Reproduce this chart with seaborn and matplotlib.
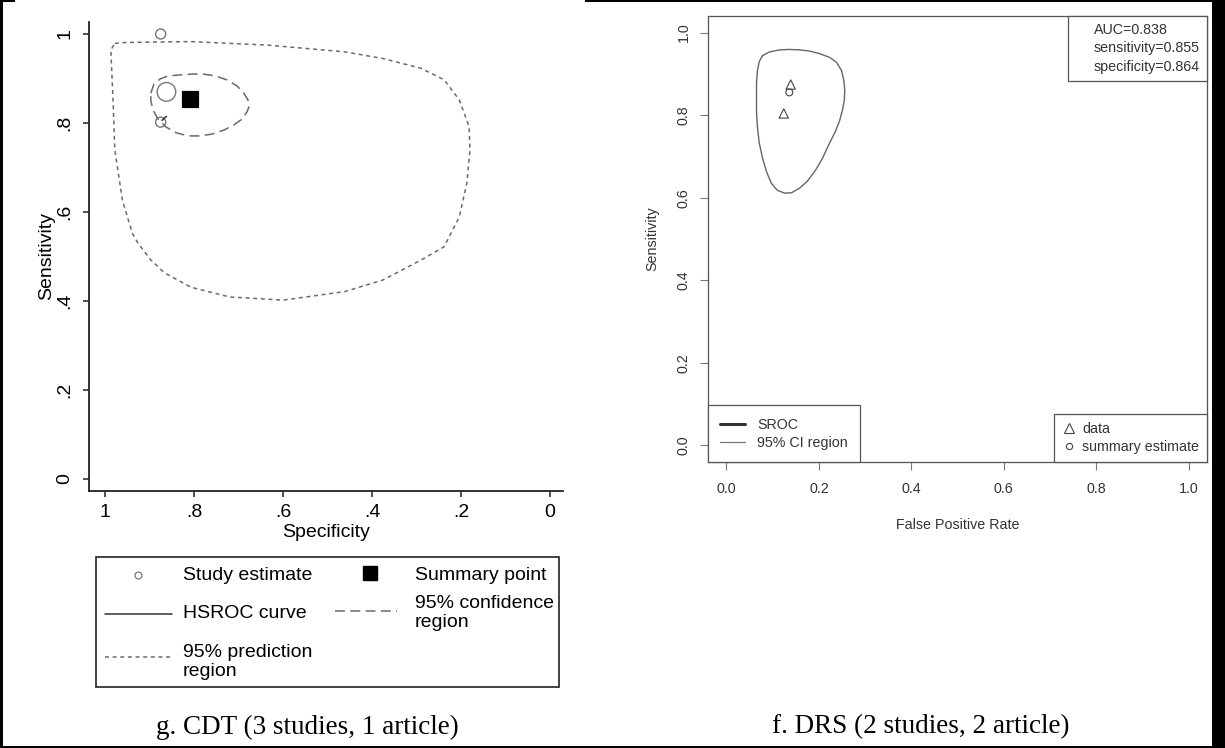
import numpy as np
import matplotlib
matplotlib.use("Agg")
import matplotlib.pyplot as plt
import seaborn as sns
from matplotlib.lines import Line2D
from matplotlib.patches import Rectangle

# ---- g. CDT: HSROC plot (specificity axis reversed) ----
cdt_study_spec = [0.875, 0.862, 0.875]
cdt_study_sens = [1.000, 0.870, 0.802]
cdt_summary_spec = [0.809]
cdt_summary_sens = [0.853]
cdt_hsroc_spec = [0.872, 0.862]
cdt_hsroc_sens = [0.806, 0.815]
cdt_conf_spec = [0.897, 0.890, 0.876, 0.858, 0.831, 0.804, 0.780, 0.753,
                 0.726, 0.703, 0.688, 0.679, 0.676, 0.681, 0.692, 0.710,
                 0.733, 0.760, 0.787, 0.813, 0.840, 0.863, 0.881, 0.892,
                 0.897]
cdt_conf_sens = [0.867, 0.888, 0.899, 0.906, 0.908, 0.910, 0.910, 0.906,
                 0.897, 0.883, 0.867, 0.852, 0.838, 0.825, 0.809, 0.796,
                 0.784, 0.775, 0.771, 0.771, 0.778, 0.791, 0.809, 0.829,
                 0.849]
cdt_pred_spec = [0.978, 0.953, 0.807, 0.634, 0.462, 0.376, 0.290, 0.238,
                 0.204, 0.182, 0.180, 0.187, 0.204, 0.238, 0.290, 0.376,
                 0.462, 0.600, 0.720, 0.807, 0.866, 0.897, 0.926, 0.939,
                 0.961, 0.978, 0.982, 0.987]
cdt_pred_sens = [0.979, 0.981, 0.983, 0.975, 0.960, 0.945, 0.923, 0.897,
                 0.852, 0.792, 0.740, 0.665, 0.589, 0.522, 0.492, 0.447,
                 0.421, 0.402, 0.409, 0.431, 0.463, 0.492, 0.530, 0.553,
                 0.627, 0.739, 0.852, 0.964]
cdt_ticks = [0, 0.2, 0.4, 0.6, 0.8, 1]
cdt_ticklabels = ["0", ".2", ".4", ".6", ".8", "1"]

# ---- f. DRS: SROC plot ----
drs_fpr = [0.139, 0.124]
drs_sens = [0.874, 0.804]
drs_summary_fpr = [0.136]
drs_summary_sens = [0.855]
drs_ci_fpr = [0.078, 0.093, 0.115, 0.136, 0.158, 0.180, 0.201, 0.223, 0.238,
              0.249, 0.254, 0.256, 0.255, 0.251, 0.245, 0.236, 0.223, 0.208,
              0.193, 0.175, 0.158, 0.141, 0.126, 0.110, 0.097, 0.087, 0.078,
              0.071, 0.067, 0.065, 0.065, 0.065, 0.067, 0.071]
drs_ci_sens = [0.944, 0.953, 0.958, 0.959, 0.958, 0.955, 0.949, 0.940, 0.928,
               0.908, 0.884, 0.860, 0.836, 0.812, 0.787, 0.761, 0.732, 0.696,
               0.667, 0.640, 0.623, 0.612, 0.611, 0.618, 0.635, 0.662, 0.696,
               0.732, 0.771, 0.807, 0.843, 0.879, 0.908, 0.930]
drs_stats = ["AUC=0.838", "sensitivity=0.855", "specificity=0.864"]
drs_ticks = [0.0, 0.2, 0.4, 0.6, 0.8, 1.0]

captions = ["g. CDT (3 studies, 1 article)", "f. DRS (2 studies, 2 article)"]

W, H = 1225, 748


def fx(x):
    return x / W


def fy(y):
    return 1 - y / H


def closed(a):
    return np.append(a, a[0])


sns.set_theme(style="white")
plt.rcParams["font.family"] = ["Liberation Sans", "DejaVu Sans"]

fig = plt.figure(figsize=(W / 100, H / 100), dpi=100)
fig.patch.set_facecolor("white")

# ---------------- left panel ----------------
ax1 = fig.add_axes([fx(89), fy(491), fx(563) - fx(89), fy(22) - fy(491)])
sns.lineplot(x=closed(cdt_pred_spec), y=closed(cdt_pred_sens), sort=False,
             estimator=None, ax=ax1, color="#6a6a6a", lw=1.1,
             linestyle=(0, (2.6, 2.4)))
sns.lineplot(x=closed(cdt_conf_spec), y=closed(cdt_conf_sens), sort=False,
             estimator=None, ax=ax1, color="#6a6a6a", lw=1.1,
             linestyle=(0, (6.5, 3.5)))
sns.lineplot(x=cdt_hsroc_spec, y=cdt_hsroc_sens, sort=False, estimator=None,
             ax=ax1, color="#333333", lw=1.1)
sns.scatterplot(x=cdt_study_spec, y=cdt_study_sens, ax=ax1, s=[52, 180, 52],
                facecolor="none", edgecolor="#777777", linewidth=1.0)
sns.scatterplot(x=cdt_summary_spec, y=cdt_summary_sens, ax=ax1, marker="s",
                s=120, color="black", edgecolor="black")
ax1.set_xlim(1.036, -0.029)
ax1.set_ylim(-0.027, 1.027)
ax1.set_xticks(cdt_ticks)
ax1.set_xticklabels(cdt_ticklabels)
ax1.set_yticks(cdt_ticks)
ax1.set_yticklabels(cdt_ticklabels, rotation=90, va="center")
for side in ["top", "right"]:
    ax1.spines[side].set_visible(False)
for side in ["left", "bottom"]:
    ax1.spines[side].set_color("#222222")
    ax1.spines[side].set_linewidth(1.3)
ax1.tick_params(axis="both", which="major", direction="out", length=4.5,
                width=1.1, color="#222222", labelsize=14, labelcolor="black",
                left=True, bottom=True)
ax1.tick_params(axis="x", pad=5)
ax1.tick_params(axis="y", pad=7)
ax1.set_xlabel("Specificity", fontsize=14, labelpad=2, color="black")
ax1.set_ylabel("Sensitivity", fontsize=14, labelpad=1, color="black")

# Stata style legend under the plot
fig.add_artist(Rectangle((fx(96), fy(687)), fx(559) - fx(96), fy(557) - fy(687),
                         transform=fig.transFigure, fill=False,
                         edgecolor="#222222", lw=1.2))
lg_font = dict(fontsize=14, color="black", va="center", ha="left",
               linespacing=1.2)
fig.add_artist(Line2D([fx(138)], [fy(575)], marker="o", ms=5, mfc="none",
                      mec="#777777", mew=0.9, transform=fig.transFigure))
fig.text(fx(183), fy(575), "Study estimate", **lg_font)
fig.add_artist(Line2D([fx(370)], [fy(573)], marker="s", ms=10.5, color="black",
                      transform=fig.transFigure))
fig.text(fx(415), fy(575), "Summary point", **lg_font)
fig.add_artist(Line2D([fx(105), fx(172)], [fy(614), fy(614)], color="#333333",
                      lw=1.1, transform=fig.transFigure))
fig.text(fx(183), fy(614), "HSROC curve", **lg_font)
fig.add_artist(Line2D([fx(335), fx(397)], [fy(611), fy(611)], color="#6a6a6a",
                      lw=1.1, ls=(0, (6.5, 3.5)), transform=fig.transFigure))
fig.text(fx(415), fy(613), "95% confidence\nregion", **lg_font)
fig.add_artist(Line2D([fx(105), fx(172)], [fy(657), fy(657)], color="#6a6a6a",
                      lw=1.1, ls=(0, (2.6, 2.4)), transform=fig.transFigure))
fig.text(fx(183), fy(662), "95% prediction\nregion", **lg_font)

# ---------------- right panel ----------------
gray = "#555555"
txt = "#333333"
fs = 10.3
ax2 = fig.add_axes([fx(708), fy(462), fx(1207) - fx(708), fy(16) - fy(462)])
sns.lineplot(x=closed(drs_ci_fpr), y=closed(drs_ci_sens), sort=False,
             estimator=None, ax=ax2, color="#666666", lw=1.0)
sns.scatterplot(x=drs_fpr, y=drs_sens, ax=ax2, marker="^", s=45,
                facecolor="none", edgecolor="#444444", linewidth=0.8)
sns.scatterplot(x=drs_summary_fpr, y=drs_summary_sens, ax=ax2, marker="o",
                s=25, facecolor="none", edgecolor="#444444", linewidth=0.8)
ax2.set_xlim(-0.04, 1.04)
ax2.set_ylim(-0.04, 1.04)
ax2.set_xticks(drs_ticks)
ax2.set_xticklabels([f"{t:.1f}" for t in drs_ticks])
ax2.set_yticks(drs_ticks)
ax2.set_yticklabels([f"{t:.1f}" for t in drs_ticks], rotation=90, va="center")
for side in ax2.spines:
    ax2.spines[side].set_visible(True)
    ax2.spines[side].set_color(gray)
    ax2.spines[side].set_linewidth(0.9)
ax2.tick_params(axis="both", direction="out", length=5.8, width=0.8,
                color="#777777", labelsize=fs, labelcolor=txt,
                left=True, bottom=True)
ax2.tick_params(axis="x", pad=8.5)
ax2.tick_params(axis="y", pad=6.5)
ax2.set_xlabel("False Positive Rate", fontsize=fs, color=txt, labelpad=16)
ax2.set_ylabel("Sensitivity", fontsize=fs, color=txt, labelpad=13)

leg_kw = dict(fontsize=fs, fancybox=False, framealpha=1, borderaxespad=0,
              labelcolor=txt, labelspacing=0.3)
h_lines = [Line2D([], [], color="#333333", lw=2.2),
           Line2D([], [], color="#777777", lw=0.9)]
leg1 = ax2.legend(h_lines, ["SROC", "95% CI region"], loc="lower left",
                  handlelength=1.75, handletextpad=0.84, borderpad=0.85,
                  **leg_kw)
ax2.add_artist(leg1)
h_pts = [Line2D([], [], marker="^", ls="none", mfc="none", mec="#444444",
                ms=6.5, mew=0.8),
         Line2D([], [], marker="o", ls="none", mfc="none", mec="#444444",
                ms=4.5, mew=0.8)]
leg2 = ax2.legend(h_pts, ["data", "summary estimate"], loc="lower right",
                  handlelength=0.9, handletextpad=0.5, borderpad=0.55,
                  **leg_kw)
ax2.add_artist(leg2)
h_none = [Line2D([], [], color="none") for _ in drs_stats]
leg3 = ax2.legend(h_none, drs_stats, loc="upper right", handlelength=0.8,
                  handletextpad=0.53, borderpad=0.5, **leg_kw)
for lg in (leg1, leg2, leg3):
    lg.get_frame().set_edgecolor(gray)
    lg.get_frame().set_linewidth(0.9)

# captions
for cx, cap in zip([307, 921], captions):
    fig.text(fx(cx), fy(727), cap, ha="center", va="center",
             family=["Liberation Serif", "DejaVu Serif"], fontsize=19.5,
             color="black")

# table cell borders
border = dict(transform=fig.transFigure, color="black", lw=0)
fig.add_artist(Rectangle((0, 0), fx(3), 1, **border))
fig.add_artist(Rectangle((0, 0), 1, 1 - fy(2), **border))
fig.add_artist(Rectangle((fx(1212), 0), 1 - fx(1212), 1, **border))
fig.add_artist(Rectangle((0, fy(2)), fx(15), 1 - fy(2), **border))
fig.add_artist(Rectangle((fx(585), fy(2)), 1 - fx(585), 1 - fy(2), **border))

fig.savefig("out.png", dpi=100, facecolor="white")
